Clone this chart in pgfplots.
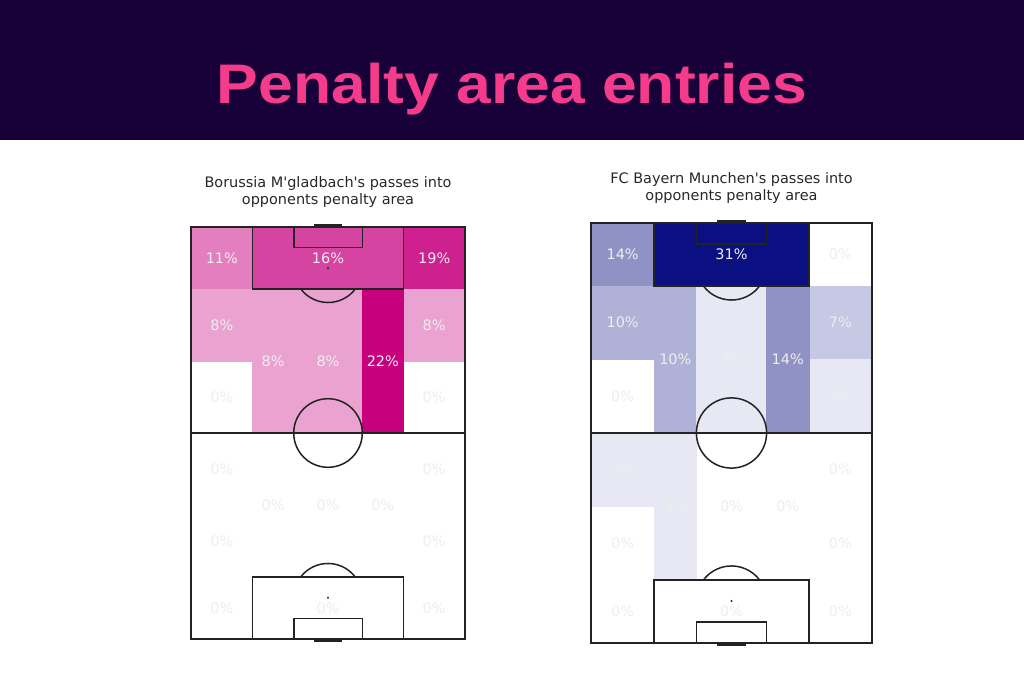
\documentclass[border=0pt]{standalone}
\usepackage{pgfplots}
\pgfplotsset{compat=1.18}
\usepgfplotslibrary{patchplots}
\usepackage{fontspec}
\setmainfont{DejaVu Sans}
\newfontfamily\titlefont{Liberation Sans}
\definecolor{banner}{RGB}{24,0,56}
\definecolor{titlepink}{RGB}{245,60,140}
\definecolor{subc}{RGB}{40,40,40}
\definecolor{lbl}{RGB}{238,238,238}
\definecolor{pline}{RGB}{35,35,35}

% zone rectangles (4 vertices each), value c
\pgfplotstableread{
x y c
0 102 11
18 102 11
18 120 11
0 120 11
18 102 16
62 102 16
62 120 16
18 120 16
62 102 19
80 102 19
80 120 19
62 120 19
0 81 8
18 81 8
18 102 8
0 102 8
62 81 8
80 81 8
80 102 8
62 102 8
18 60 8
30 60 8
30 102 8
18 102 8
30 60 8
50 60 8
50 102 8
30 102 8
50 60 22
62 60 22
62 102 22
50 102 22
}\leftpatch

\pgfplotstableread{
x y v
9 111 11
40 111 16
71 111 19
9 91.5 8
71 91.5 8
9 70.5 0
71 70.5 0
24 81 8
40 81 8
56 81 22
9 49.5 0
71 49.5 0
9 28.5 0
71 28.5 0
24 39 0
40 39 0
56 39 0
9 9 0
40 9 0
71 9 0
}\leftlabels

\pgfplotstableread{
x y c
0 102 14
18 102 14
18 120 14
0 120 14
18 102 31
62 102 31
62 120 31
18 120 31
0 81 10
18 81 10
18 102 10
0 102 10
62 81 7
80 81 7
80 102 7
62 102 7
62 60 3
80 60 3
80 81 3
62 81 3
18 60 10
30 60 10
30 102 10
18 102 10
30 60 3
50 60 3
50 102 3
30 102 3
50 60 14
62 60 14
62 102 14
50 102 14
0 39 3
18 39 3
18 60 3
0 60 3
18 18 3
30 18 3
30 60 3
18 60 3
}\rightpatch

\pgfplotstableread{
x y v
9 111 14
40 111 31
71 111 0
9 91.5 10
71 91.5 7
9 70.5 0
71 70.5 3
24 81 10
40 81 3
56 81 14
9 49.5 3
71 49.5 0
9 28.5 0
71 28.5 0
24 39 3
40 39 0
56 39 0
9 9 0
40 9 0
71 9 0
}\rightlabels

\newcommand{\pitchlines}[1]{%
  \draw[pline, line width=1.5bp] (axis cs:0,0) rectangle (axis cs:80,120);
  \draw[pline, line width=1.5bp] (axis cs:0,60) -- (axis cs:80,60);
  \draw[pline, line width=1.5bp] (axis cs:18,102) rectangle (axis cs:62,120);
  \draw[pline, line width=1.5bp] (axis cs:18,0) rectangle (axis cs:62,18);
  \draw[pline, line width=1.5bp] (axis cs:30,114) rectangle (axis cs:50,120);
  \draw[pline, line width=1.5bp] (axis cs:30,0) rectangle (axis cs:50,6);
  \draw[pline, line width=1.5bp] (axis cs:40,60) circle[radius=#1];
  \draw[pline, line width=1.5bp] (axis cs:32,102) arc[start angle=216.87, end angle=323.13, radius=#1];
  \draw[pline, line width=1.5bp] (axis cs:48,18) arc[start angle=36.87, end angle=143.13, radius=#1];
  \fill[pline] (axis cs:40,108) circle[radius=1.1bp];
  \fill[pline] (axis cs:40,12) circle[radius=1.1bp];
  \fill[pline] (axis cs:40,60) circle[radius=0.8bp];
  \draw[pline, line width=3bp] (axis cs:36,120.4) -- (axis cs:44,120.4);
  \draw[pline, line width=3bp] (axis cs:36,-0.4) -- (axis cs:44,-0.4);
}

\pgfplotsset{
  pitch/.style={hide axis, scale only axis, xmin=0, xmax=80, ymin=0, ymax=120,
    clip=false, anchor=south west, point meta min=0,
    /pgf/number format/assume math mode=true},
  zonelabels/.style={only marks, mark=none, point meta=\thisrow{v},
    nodes near coords={\pgfmathprintnumber{\pgfplotspointmeta}\%},
    nodes near coords style={anchor=center, text=lbl, inner sep=0pt,
      font=\fontsize{14.5}{17}\selectfont}},
}

\begin{document}
\begin{tikzpicture}[x=1bp, y=1bp]
\useasboundingbox (0,0) rectangle (1024,683);
\fill[white] (0,0) rectangle (1024,683);
\fill[banner] (0,543) rectangle (1024,683);
\node[anchor=base, inner sep=0pt, text=titlepink] at (512,579)
  {\scalebox{1.12}[1]{\titlefont\bfseries\fontsize{56}{60}\selectfont Penalty area entries}};

\node[anchor=base, inner sep=0pt, text=subc, font=\fontsize{14.5}{17}\selectfont] at (328,495) {Borussia M\textquotesingle gladbach\textquotesingle s passes into};
\node[anchor=base, inner sep=0pt, text=subc, font=\fontsize{14.5}{17}\selectfont] at (328,478) {opponents penalty area};
\node[anchor=base, inner sep=0pt, text=subc, font=\fontsize{14.5}{17}\selectfont] at (731.5,499) {FC Bayern Munchen\textquotesingle s passes into};
\node[anchor=base, inner sep=0pt, text=subc, font=\fontsize{14.5}{17}\selectfont] at (731.5,482) {opponents penalty area};

\begin{axis}[pitch, at={(191bp,44bp)}, width=274bp, height=412bp,
  colormap={pk}{rgb255=(255,255,255) rgb255=(199,0,126)}, point meta max=22]
  \addplot[patch, patch type=rectangle, shader=flat, draw=none, point meta=\thisrow{c}] table[x=x, y=y] {\leftpatch};
  \pitchlines{34.3bp}
  \addplot[zonelabels] table[x=x, y=y] {\leftlabels};
\end{axis}

\begin{axis}[pitch, at={(591bp,40bp)}, width=281bp, height=420bp,
  colormap={nv}{rgb255=(255,255,255) rgb255=(10,15,130)}, point meta max=31]
  \addplot[patch, patch type=rectangle, shader=flat, draw=none, point meta=\thisrow{c}] table[x=x, y=y] {\rightpatch};
  \pitchlines{35.1bp}
  \addplot[zonelabels] table[x=x, y=y] {\rightlabels};
\end{axis}
\end{tikzpicture}
\end{document}
